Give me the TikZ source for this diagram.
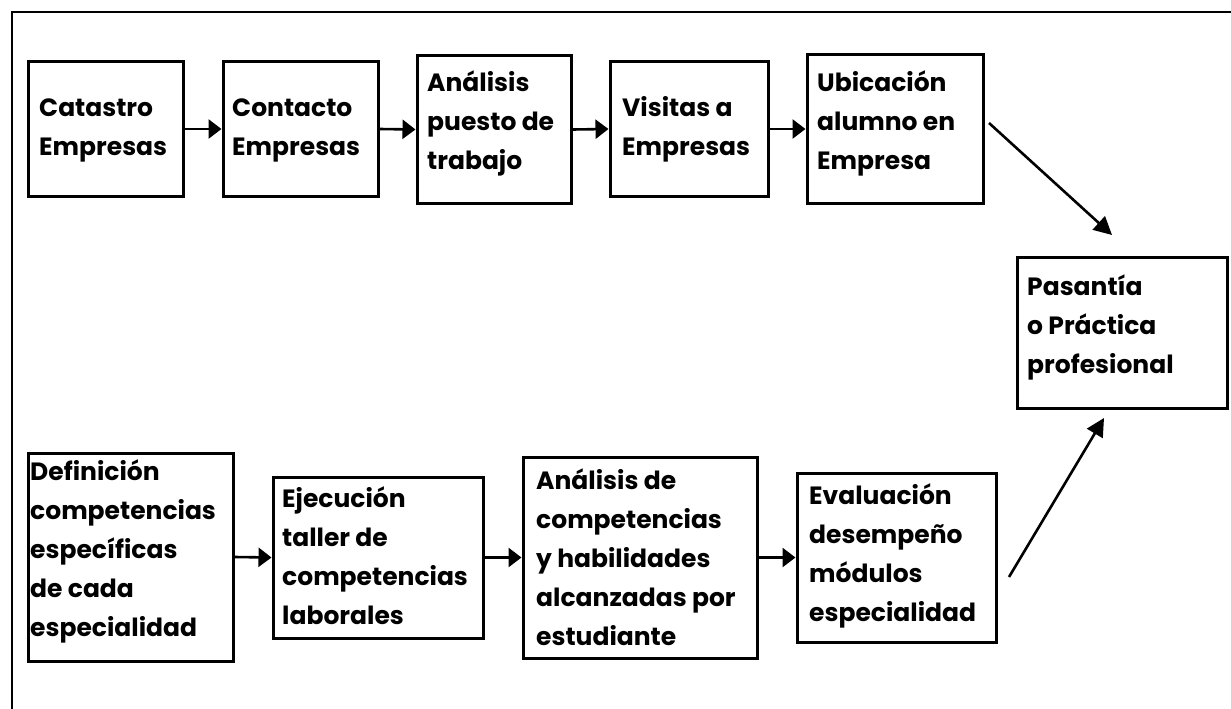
\documentclass[tikz,border=0pt]{standalone}
\usepackage{fontspec}
\setmainfont{Poppins}
\usetikzlibrary{arrows.meta}
\begin{document}
\begin{tikzpicture}[x=1pt,y=-1pt,
  box/.style={draw, line width=3pt, inner sep=0pt},
  txt/.style={align=left, inner sep=0pt, anchor=west, font=\fontsize{25}{39}\selectfont\bfseries},
  arr/.style={line width=2.6pt, -{Triangle[length=13pt,width=19pt]}},
  darr/.style={line width=2.6pt, -{Triangle[length=18pt,width=18pt]}}]
\useasboundingbox (0,0) rectangle (1231,709);
\draw[line width=2.6pt] (12,709) -- (12,12) -- (1231,12);
% top row
\node[box, minimum width=155, minimum height=134] (b1) at (105.5,129) {};
\node[box, minimum width=155, minimum height=134] (b2) at (300.5,129) {};
\node[box, minimum width=154, minimum height=147] (b3) at (494,129.5) {};
\node[box, minimum width=158, minimum height=134] (b4) at (689,129) {};
\node[box, minimum width=176, minimum height=148] (b5) at (895,129) {};
\node[box, minimum width=210, minimum height=151] (b6) at (1122,332.5) {};
% bottom row
\node[box, minimum width=205, minimum height=208] (b7) at (130.5,557) {};
\node[box, minimum width=210, minimum height=161] (b8) at (378,557.5) {};
\node[box, minimum width=234, minimum height=201] (b9) at (640,557.5) {};
\node[box, minimum width=199, minimum height=169] (b10) at (896.5,557.5) {};
% texts
\node[txt] (t1) at (39,130) {Catastro\\Empresas};
\node[txt] (t2) at (232,130) {Contacto\\Empresas};
\node[txt] (t3) at (427,123) {Análisis\\puesto de\\trabajo};
\node[txt] (t4) at (622,129) {Visitas a\\Empresas};
\node[txt] (t5) at (817,123) {Ubicación\\alumno en\\Empresa};
\node[txt] (t6) at (1027,327) {Pasantía\\o Práctica\\profesional};
\node[txt] (t7) at (30,551) {Definición\\competencias\\específicas\\de cada\\especialidad};
\node[txt] (t8) at (282,556) {Ejecución\\taller de\\competencias\\laborales};
\node[txt] (t9) at (536,557) {Análisis de\\competencias\\y habilidades\\alcanzadas por\\estudiante};
\node[txt] (t10) at (809,556) {Evaluación\\desempeño\\módulos\\especialidad};
% connectors
\draw[arr] (b1.east) -- (b2.west);
\draw[arr] (b2.east) -- (b3.west);
\draw[arr] (b3.east) -- (b4.west);
\draw[arr] (b4.east) -- (b5.west);
\draw[arr] (b7.east) -- (b8.west);
\draw[arr] (b8.east) -- (b9.west);
\draw[arr] (b9.east) -- (b10.west);
\coordinate (c1) at (989,123);
\coordinate (c2) at (1112,235);
\coordinate (c3) at (1009,577);
\coordinate (c4) at (1104,418);
\draw[darr] (c1) -- (c2);
\draw[darr] (c3) -- (c4);
\end{tikzpicture}
\end{document}
